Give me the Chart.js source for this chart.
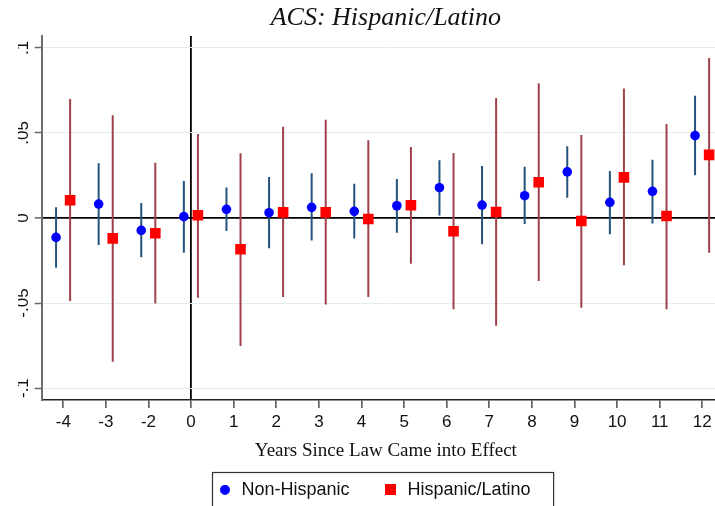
<!DOCTYPE html>
<html>
<head>
<meta charset="utf-8">
<script src="https://cdn.jsdelivr.net/npm/chart.js@4/dist/chart.umd.min.js"></script>
<style>
  html, body { margin: 0; padding: 0; background: #fff; overflow: hidden; }
  #wrap { width: 715px; height: 506px; overflow: hidden; }
  canvas { display: block; }
</style>
</head>
<body>
<div id="wrap"><canvas id="c" width="730" height="510"></canvas></div>
<script>
// ---- data ----
const categories = ['-4','-3','-2','0','1','2','3','4','5','6','7','8','9','10','11','12'];
const zeroCategory = '0';

const nonHisp   = [-0.0114, 0.0082, -0.0073, 0.0008, 0.0051, 0.0031, 0.0063, 0.0039, 0.0072, 0.0178, 0.0076, 0.0131, 0.0271, 0.0092, 0.0157, 0.0484];
const nonHispLo = [-0.0292, -0.0159, -0.0231, -0.0204, -0.0076, -0.0178, -0.0133, -0.0120, -0.0086, 0.0014, -0.0155, -0.0035, 0.0119, -0.0096, -0.0033, 0.0251];
const nonHispHi = [0.0063, 0.0322, 0.0088, 0.0218, 0.0180, 0.0241, 0.0263, 0.0202, 0.0229, 0.0339, 0.0306, 0.0302, 0.0422, 0.0276, 0.0343, 0.0718];

const hisp   = [0.0104, -0.0120, -0.0090, 0.0016, -0.0184, 0.0033, 0.0033, -0.0006, 0.0075, -0.0078, 0.0035, 0.0210, -0.0018, 0.0239, 0.0012, 0.0371];
const hispLo = [-0.0488, -0.0845, -0.0502, -0.0469, -0.0753, -0.0465, -0.0508, -0.0465, -0.0269, -0.0537, -0.0633, -0.0371, -0.0527, -0.0278, -0.0537, -0.0204];
const hispHi = [0.0700, 0.0604, 0.0325, 0.0494, 0.0380, 0.0537, 0.0578, 0.0457, 0.0418, 0.0382, 0.0706, 0.0792, 0.0488, 0.0761, 0.0553, 0.0941];

const yTicks = [-0.1, -0.05, 0, 0.05, 0.1];
const yTickLabels = ['-.1', '-.05', '0', '.05', '.1'];

const seriesNames = ['Non-Hispanic', 'Hispanic/Latino'];
const titleText = 'ACS: Hispanic/Latino';
const xTitleText = 'Years Since Law Came into Effect';

// ---- style ----
const offsetNon = -0.17, offsetHisp = 0.16;
const blue = '#0000ff', red = '#ff0000';
const blueCI = '#25527d', redCI = '#9e4149';
const zeroIdx = categories.indexOf(zeroCategory);

function points(vals, off) {
  return vals.map((v, i) => ({x: i + off, y: v}));
}
function ciSegments(lo, hi, off) {
  const out = [];
  lo.forEach((l, i) => {
    out.push({x: i + off, y: l});
    out.push({x: i + off, y: hi[i]});
    out.push({x: i + off, y: null});
  });
  return out;
}

function legendSymbol(kind) {
  const cv = document.createElement('canvas');
  const s = kind === 'circle' ? 10 : 11;
  cv.width = s; cv.height = s;
  const g = cv.getContext('2d');
  if (kind === 'circle') {
    g.fillStyle = blue; g.beginPath(); g.arc(s/2, s/2, s/2, 0, Math.PI*2); g.fill();
  } else {
    g.fillStyle = red; g.fillRect(0, 0, s, s);
  }
  return cv;
}
const legendSyms = [legendSymbol('circle'), legendSymbol('rect')];

const legendBox = {
  id: 'legendBox',
  afterDraw(chart) {
    const lg = chart.legend;
    if (!lg || !lg.legendHitBoxes || !lg.legendHitBoxes.length) return;
    const hb = lg.legendHitBoxes;
    const l = Math.min(...hb.map(h => h.left)) - 5;
    const r = Math.max(...hb.map(h => h.left + h.width)) + 23;
    const t = hb[0].top - 9;
    const ctx = chart.ctx;
    ctx.save();
    ctx.strokeStyle = '#333';
    ctx.lineWidth = 1.2;
    ctx.strokeRect(Math.round(l) + 0.5, Math.round(t) + 0.5, r - l, chart.height - t + 10);
    ctx.restore();
  }
};

new Chart(document.getElementById('c'), {
  data: {
    datasets: [
      { type: 'scatter', label: seriesNames[0], data: points(nonHisp, offsetNon),
        pointStyle: 'circle', pointRadius: 4.8, backgroundColor: blue, borderColor: blue, borderWidth: 0, order: 1 },
      { type: 'scatter', label: seriesNames[1], data: points(hisp, offsetHisp),
        pointStyle: 'rect', pointRadius: 7.5, backgroundColor: red, borderColor: red, borderWidth: 0, order: 1 },
      { type: 'line', label: 'ci0', data: ciSegments(nonHispLo, nonHispHi, offsetNon),
        borderColor: blueCI, borderWidth: 2, pointRadius: 0, spanGaps: false, fill: false, order: 2, borderCapStyle: 'butt' },
      { type: 'line', label: 'ci1', data: ciSegments(hispLo, hispHi, offsetHisp),
        borderColor: redCI, borderWidth: 2, pointRadius: 0, spanGaps: false, fill: false, order: 2, borderCapStyle: 'butt' }
    ]
  },
  options: {
    responsive: false,
    animation: false,
    events: [],
    layout: { autoPadding: false, padding: { left: 18, right: 0, top: 0, bottom: 1.2 } },
    scales: {
      x: {
        type: 'linear', min: -0.507, max: 15.65,
        afterBuildTicks: s => { s.ticks = categories.map((c, i) => ({value: i})); },
        afterFit: s => { s.height = 46.8; s.paddingLeft = 0; s.paddingRight = 0; },
        ticks: {
          autoSkip: false, maxRotation: 0, padding: 4,
          font: { family: 'Liberation Sans', size: 17 }, color: '#111',
          callback: v => categories[v]
        },
        grid: {
          color: c => (c.tick && c.tick.value === zeroIdx) ? '#000' : 'rgba(0,0,0,0)',
          lineWidth: 1.8, tickLength: 8, tickColor: '#222', tickWidth: 1.2
        },
        border: { color: '#222', width: 1.5 },
        title: {
          display: true, text: xTitleText, color: '#111',
          font: { family: 'Liberation Serif', size: 19 },
          padding: { top: 0, bottom: -15.5 }
        }
      },
      y: {
        type: 'linear', min: -0.107, max: 0.107,
        afterBuildTicks: s => { s.ticks = yTicks.map(v => ({value: v})); },
        afterFit: s => { s.width = 23.7; },
        ticks: {
          minRotation: 90, maxRotation: 90, crossAlign: 'center', padding: -3.5,
          font: { family: 'Liberation Sans', size: 17 }, color: '#111',
          callback: (v, i) => yTickLabels[i]
        },
        grid: {
          color: c => (c.tick && c.tick.value === 0) ? '#000' : '#e3ecef',
          lineWidth: c => (c.tick && c.tick.value === 0) ? 1.8 : 1,
          tickLength: 7, tickColor: '#666', tickWidth: 1.5
        },
        border: { color: '#6e6e6e', width: 2 }
      }
    },
    plugins: {
      title: {
        display: true, text: titleText, fullSize: false, color: '#111',
        font: { family: 'Liberation Serif', size: 26, style: 'italic', weight: 'normal' },
        padding: { top: 2.5, bottom: 2.3 }
      },
      legend: {
        display: true, position: 'bottom', fullSize: true,
        labels: {
          usePointStyle: true, pointStyleWidth: 15, padding: 34, color: '#111',
          font: { family: 'Liberation Sans', size: 18 },
          filter: item => item.datasetIndex < 2,
          generateLabels: chart => {
            const items = Chart.defaults.plugins.legend.labels.generateLabels(chart);
            return items.map(it => {
              if (it.datasetIndex < 2) it.pointStyle = legendSyms[it.datasetIndex];
              return it;
            });
          }
        }
      },
      tooltip: { enabled: false }
    }
  },
  plugins: [legendBox]
});
</script>
</body>
</html>
